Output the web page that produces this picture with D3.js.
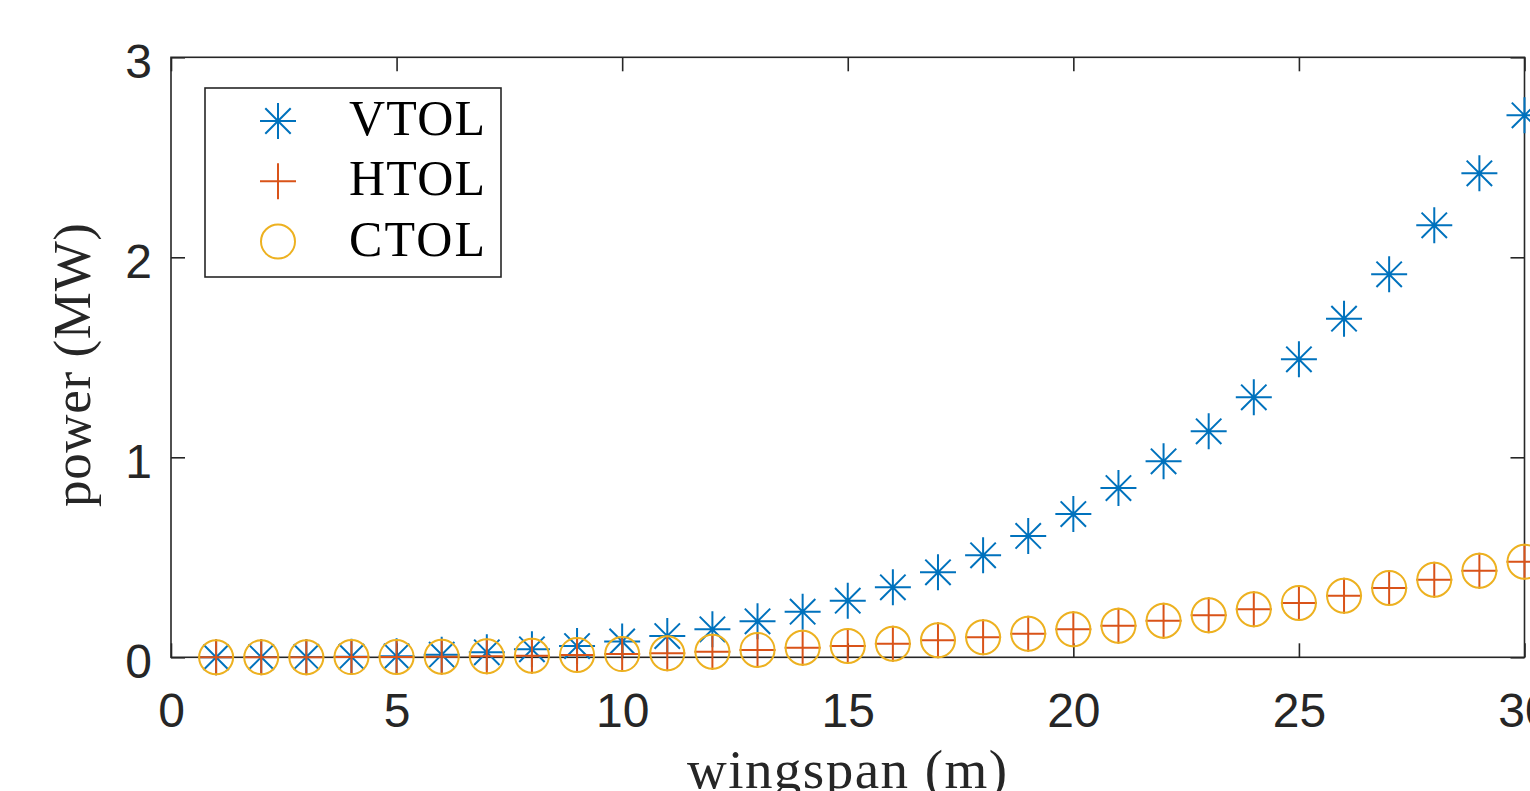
<!DOCTYPE html>
<html>
<head>
<meta charset="utf-8">
<script src="https://cdn.jsdelivr.net/npm/d3@7/dist/d3.min.js"></script>
<style>
	body { margin: 0; background: #fff; }
	svg { display: block; }
</style>
</head>
<body>
<script>
var width = 1530,
	height = 791;

var margin = {
	left: 171,
	right: 1524.5,
	top: 57.3,
	bottom: 657.3,
};

// wingspan (m)
var wingspan = d3.range(1, 31);

// power (MW)
var vtol = [0.0003, 0.001, 0.002, 0.003, 0.005, 0.013, 0.025, 0.04, 0.056, 0.079,
	0.106, 0.14, 0.18, 0.228, 0.283, 0.35, 0.425, 0.51, 0.607, 0.716,
	0.846, 0.98, 1.13, 1.30, 1.49, 1.693, 1.915, 2.16, 2.42, 2.71];
var htol = [0.0, 0.0001, 0.0004, 0.001, 0.002, 0.003, 0.005, 0.008, 0.012, 0.016,
	0.02, 0.028, 0.037, 0.048, 0.057, 0.068, 0.085, 0.1, 0.118, 0.14,
	0.158, 0.183, 0.21, 0.24, 0.272, 0.308, 0.347, 0.388, 0.433, 0.478];
var ctol = htol.slice();

var xTicks = [0, 5, 10, 15, 20, 25, 30],
	yTicks = [0, 1, 2, 3];

var series = [
	{ name: 'VTOL', values: vtol, color: '#0072BD', shape: 'star' },
	{ name: 'HTOL', values: htol, color: '#D95319', shape: 'plus' },
	{ name: 'CTOL', values: ctol, color: '#EDB120', shape: 'circle' },
];

var x = d3.scaleLinear().domain([0, 30]).range([margin.left, margin.right]);
var y = d3.scaleLinear().domain([0, 3]).range([margin.bottom, margin.top]);

var svg = d3.select('body')
	.append('svg')
	.attr('width', width)
	.attr('height', height);

var axisColor = '#262626',
	tickLen = 14;

function marker(sel, shape, color) {
	var r = 18, d = 12.7;
	if (shape === 'circle') {
		sel.append('circle').attr('r', 17)
			.attr('fill', 'none').attr('stroke', color).attr('stroke-width', 2);
	} else {
		var p = 'M' + (-r) + ',0H' + r + 'M0,' + (-r) + 'V' + r;
		if (shape === 'star') {
			p += 'M' + (-d) + ',' + (-d) + 'L' + d + ',' + d +
				'M' + (-d) + ',' + d + 'L' + d + ',' + (-d);
		}
		sel.append('path').attr('d', p)
			.attr('fill', 'none').attr('stroke', color).attr('stroke-width', 2);
	}
}

// axes box
svg.append('rect')
	.attr('x', margin.left).attr('y', margin.top)
	.attr('width', margin.right - margin.left)
	.attr('height', margin.bottom - margin.top)
	.attr('fill', 'none').attr('stroke', axisColor).attr('stroke-width', 1.6);

// ticks, inward on all four sides
var fmt = d3.format('d');
var xAxisB = d3.axisBottom(x).tickValues(xTicks).tickFormat(fmt).tickSizeInner(-tickLen).tickSizeOuter(0);
var xAxisT = d3.axisTop(x).tickValues(xTicks).tickSizeInner(-tickLen).tickSizeOuter(0).tickFormat('');
var yAxisL = d3.axisLeft(y).tickValues(yTicks).tickFormat(fmt).tickSizeInner(-tickLen).tickSizeOuter(0).tickPadding(19);
var yAxisR = d3.axisRight(y).tickValues(yTicks).tickSizeInner(-tickLen).tickSizeOuter(0).tickFormat('');

function styleAxis(g) {
	g.select('.domain').remove();
	g.selectAll('line').attr('stroke', axisColor).attr('stroke-width', 1.6);
	g.selectAll('text')
		.attr('fill', axisColor)
		.style('font-family', '"Liberation Sans", Arial, sans-serif')
		.style('font-size', '48px');
}

svg.append('g').attr('transform', 'translate(0,' + margin.bottom + ')').call(xAxisB).call(styleAxis)
	.selectAll('text').attr('dy', null).attr('y', 70);
svg.append('g').attr('transform', 'translate(0,' + margin.top + ')').call(xAxisT).call(styleAxis);
svg.append('g').attr('transform', 'translate(' + margin.left + ',0)').call(yAxisL).call(styleAxis)
	.selectAll('text').attr('dy', '0.42em');
svg.append('g').attr('transform', 'translate(' + margin.right + ',0)').call(yAxisR).call(styleAxis);

// data markers
series.forEach(function(s) {
	var g = svg.append('g').attr('class', 'series');
	var pts = g.selectAll('g')
		.data(s.values)
		.enter()
		.append('g')
		.attr('transform', function(d, i) {
			return 'translate(' + x(wingspan[i]) + ',' + y(d) + ')';
		});
	pts.each(function() {
		marker(d3.select(this), s.shape, s.color);
	});
});

// legend
var legend = svg.append('g');
legend.append('rect')
	.attr('x', 205).attr('y', 88)
	.attr('width', 296).attr('height', 189)
	.attr('fill', '#fff').attr('stroke', axisColor).attr('stroke-width', 1.6);

series.forEach(function(s, i) {
	var cy = 121 + i * 60.3;
	marker(legend.append('g').attr('transform', 'translate(278,' + cy + ')'), s.shape, s.color);
	legend.append('text')
		.attr('x', 349).attr('y', cy + 14)
		.attr('textLength', 136).attr('lengthAdjust', 'spacing')
		.style('font-family', '"Liberation Serif", "Times New Roman", serif')
		.style('font-size', '50px')
		.attr('fill', '#000')
		.text(s.name);
});

// axis labels
svg.append('text')
	.attr('x', 847).attr('y', 788)
	.attr('text-anchor', 'middle')
	.attr('textLength', 320).attr('lengthAdjust', 'spacing')
	.style('font-family', '"Liberation Serif", "Times New Roman", serif')
	.style('font-size', '55px')
	.attr('fill', '#262626')
	.text('wingspan (m)');

svg.append('text')
	.attr('transform', 'translate(90,365) rotate(-90)')
	.attr('text-anchor', 'middle')
	.attr('textLength', 284).attr('lengthAdjust', 'spacing')
	.style('font-family', '"Liberation Serif", "Times New Roman", serif')
	.style('font-size', '53px')
	.attr('fill', '#262626')
	.text('power (MW)');
</script>
</body>
</html>
